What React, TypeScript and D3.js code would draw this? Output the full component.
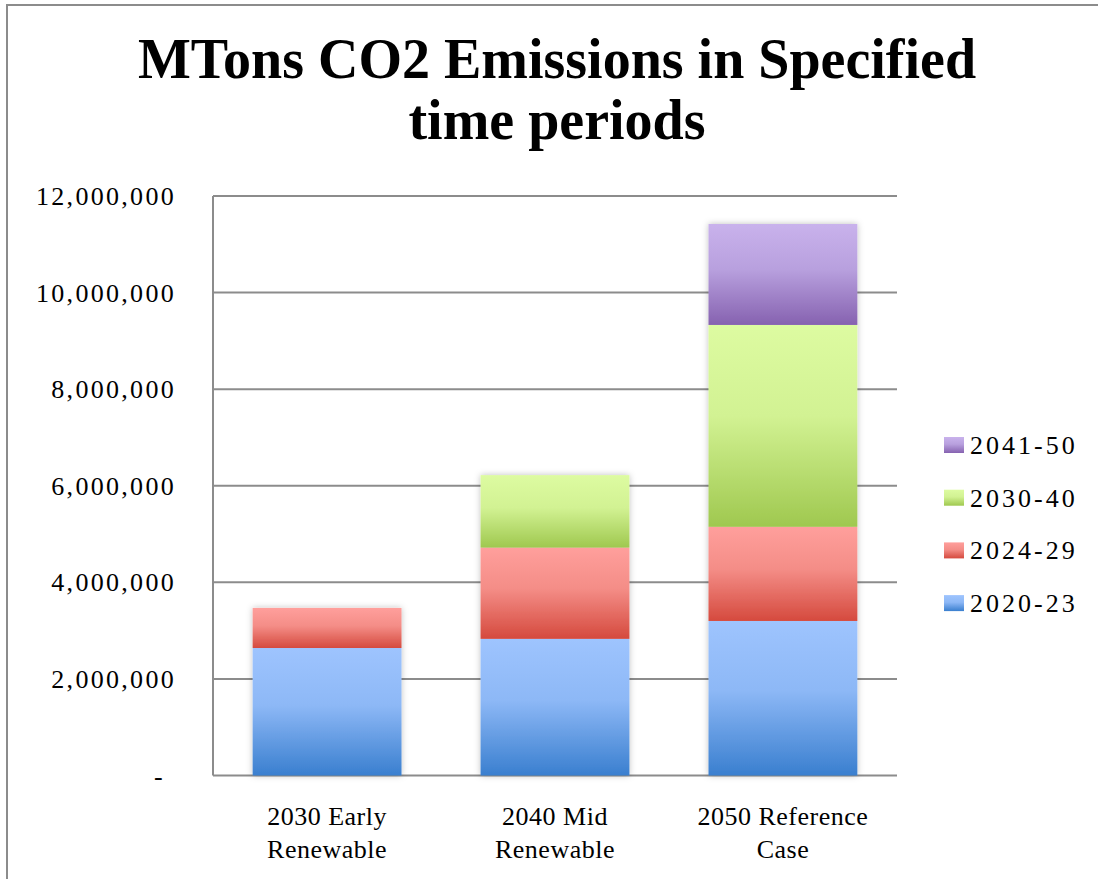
import React from "react";
import * as d3 from "d3";

const categories = [["2030 Early", "Renewable"], ["2040 Mid", "Renewable"], ["2050 Reference", "Case"]];
const seriesNames = ["2020-23", "2024-29", "2030-40", "2041-50"];
const s2020_23 = [2640000, 2830000, 3200000];
const s2024_29 = [830000, 1890000, 1950000];
const s2030_40 = [0, 1500000, 4180000];
const s2041_50 = [0, 0, 2090000];
const yTicks = [0, 2000000, 4000000, 6000000, 8000000, 10000000, 12000000];
const titleLines = ["MTons CO2 Emissions in Specified", "time periods"];

const colors = [
  { top: "#9ec4fe", mid: "#8db8f6", bot: "#3a7fcf" },
  { top: "#ff9f9c", mid: "#f48d87", bot: "#d54a3e" },
  { top: "#ddfba1", mid: "#d2f293", bot: "#9fc84f" },
  { top: "#c9b2ec", mid: "#b8a0de", bot: "#8662b0" },
];

export default function App() {
  const W = 1098, H = 879;
  const left = 213, right = 897, top = 196, bottom = 775.5;
  const y = d3.scaleLinear().domain([0, 12000000]).range([bottom, top]);
  const x = d3.scaleBand().domain(categories.map((c) => c.join(" "))).range([left, right]).paddingInner(0.347).paddingOuter(0.174);
  const seriesData = [s2020_23, s2024_29, s2030_40, s2041_50];
  const rows = categories.map((c, i) => {
    const r: any = { cat: c.join(" ") };
    seriesNames.forEach((n, j) => (r[n] = seriesData[j][i]));
    return r;
  });
  const stacked = d3.stack().keys(seriesNames)(rows);
  const fmt = d3.format(",");
  const serif = "'Liberation Serif', 'DejaVu Serif', serif";

  return (
    <svg width={W} height={H} style={{ position: "absolute", left: 0, top: 0, background: "#fff" }}>
      <defs>
        {colors.map((c, i) => (
          <linearGradient key={i} id={`g${i}`} x1="0" y1="0" x2="0" y2="1">
            <stop offset="0" stopColor={c.top} />
            <stop offset="0.45" stopColor={c.mid} />
            <stop offset="1" stopColor={c.bot} />
          </linearGradient>
        ))}
        <filter id="sh" x="-10%" y="-10%" width="120%" height="120%">
          <feDropShadow dx="0" dy="0" stdDeviation="3" floodColor="#000" floodOpacity="0.25" />
        </filter>
      </defs>
      <rect x={7} y={5} width={W} height={H} fill="#fff" stroke="#8c8c8c" strokeWidth={2} />
      {titleLines.map((t, i) => (
        <text key={i} x={557} y={78 + i * 61} textAnchor="middle" fontFamily={serif} fontWeight="bold" fontSize={56} fill="#000">{t}</text>
      ))}
      {yTicks.map((v) => (
        <g key={v}>
          <line x1={left} x2={right} y1={y(v)} y2={y(v)} stroke="#8c8c8c" strokeWidth={2} />
          <text x={v === 0 ? 165 : 176} y={y(v) + 9} textAnchor="end" fontFamily={serif} fontSize={26} letterSpacing={2.3} fill="#000">
            {v === 0 ? "-" : fmt(v)}
          </text>
        </g>
      ))}
      <line x1={left} x2={left} y1={top} y2={bottom} stroke="#8c8c8c" strokeWidth={2} />
      <g filter="url(#sh)">
        {stacked.map((s, j) =>
          s.map((d, i) => {
            const h = y(d[0]) - y(d[1]);
            if (h <= 0) return null;
            return (
              <rect key={`${j}-${i}`} x={x(rows[i].cat)} y={y(d[1])} width={x.bandwidth()} height={h} fill={`url(#g${j})`} />
            );
          })
        )}
      </g>
      {categories.map((c, i) => (
        <text key={i} x={(x(c.join(" ")) as number) + x.bandwidth() / 2} textAnchor="middle" fontFamily={serif} fontSize={26} letterSpacing={0.5} fill="#000">
          <tspan x={(x(c.join(" ")) as number) + x.bandwidth() / 2} y={825}>{c[0]}</tspan>
          <tspan x={(x(c.join(" ")) as number) + x.bandwidth() / 2} y={858}>{c[1]}</tspan>
        </text>
      ))}
      {seriesNames.slice().reverse().map((n, k) => {
        const j = seriesNames.length - 1 - k;
        const cy = 445 + k * 52.7;
        return (
          <g key={n}>
            <rect x={944} y={cy - 8} width={20} height={16} fill={`url(#g${j})`} />
            <text x={970} y={cy + 9} fontFamily={serif} fontSize={26} letterSpacing={3} fill="#000">{n}</text>
          </g>
        );
      })}
    </svg>
  );
}
